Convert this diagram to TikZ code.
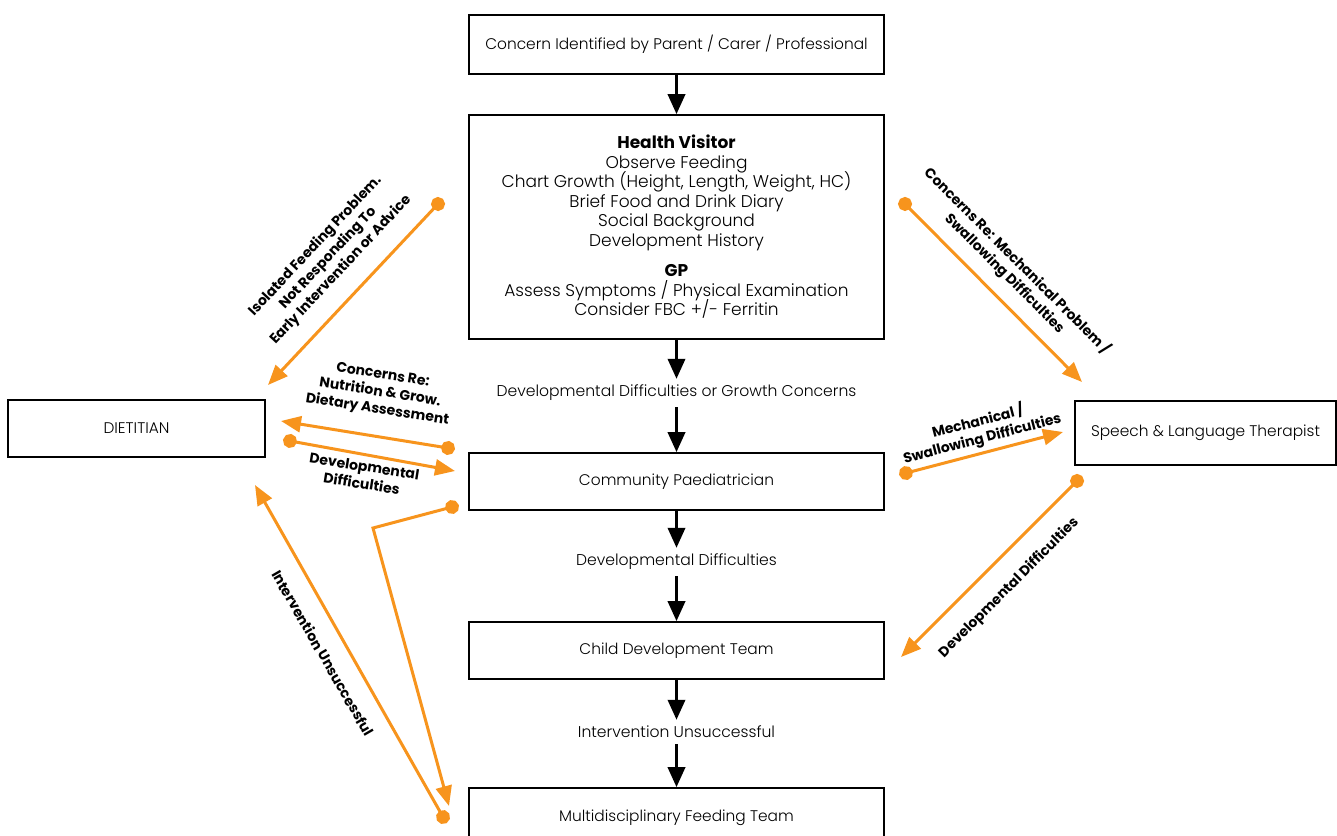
\documentclass[tikz,border=0pt]{standalone}
\usepackage{fontspec}
\setmainfont{Poppins}[UprightFont={* Light},BoldFont={* Bold}]
\usetikzlibrary{arrows.meta}
\definecolor{org}{RGB}{247,148,29}
\newcommand\mytightls{\lineskiplimit=-10pt\relax}
\begin{document}
\begin{tikzpicture}[x=1pt,y=-1pt,
  box/.style={draw=black,line width=1.6pt,inner sep=0pt,align=center,font=\fontsize{15.4}{18}\selectfont},
  mid/.style={inner xsep=0pt,inner ysep=6pt,font=\fontsize{15.6}{18}\selectfont},
  blk/.style={line width=3.5pt,-{Triangle[width=17pt,length=20pt]}},
  oar/.style={draw=org,line width=3pt,{Circle[length=14pt]}-{Triangle[width=16pt,length=20pt]}},
  olab/.style={align=center,inner sep=0pt,font=\fontsize{14}{17.5}\selectfont\bfseries\mytightls}]
\useasboundingbox (0,0) rectangle (1337,835);
% boxes
\node[box,minimum width=415pt,minimum height=59pt] (top) at (676.5,44.5) {Concern Identified by Parent / Carer / Professional};
\node[box,minimum width=415pt,minimum height=224pt,font=\fontsize{17}{19.5}\selectfont\mytightls] (hv) at (676.5,227)
 {\textbf{Health Visitor}\\Observe Feeding\\Chart Growth (Height, Length, Weight, HC)\\Brief Food and Drink Diary\\Social Background\\Development History\\[11pt]\textbf{GP}\\Assess Symptoms / Physical Examination\\Consider FBC +/- Ferritin};
\node[box,minimum width=415pt,minimum height=57pt] (cp) at (676.5,481.5) {Community Paediatrician};
\node[box,minimum width=415pt,minimum height=57pt] (cdt) at (676.5,650.5) {Child Development Team};
\node[box,minimum width=415pt,minimum height=60pt] (mft) at (676.5,818) {Multidisciplinary Feeding Team};
\node[box,minimum width=257pt,minimum height=57pt] (diet) at (136.5,428.5) {DIETITIAN};
\node[box,minimum width=261pt,minimum height=64pt] (slt) at (1205.5,433) {Speech \& Language Therapist};
% middle labels
\node[mid] (m1) at (676.5,393) {Developmental Difficulties or Growth Concerns};
\node[mid] (m2) at (676.5,562) {Developmental Difficulties};
\node[mid] (m3) at (676.5,732) {Intervention Unsuccessful};
% black arrows
\draw[blk] (top) -- (hv);
\draw[blk] (hv) -- (m1);
\draw[blk] (m1) -- (cp);
\draw[blk] (cp) -- (m2);
\draw[blk] (m2) -- (cdt);
\draw[blk] (cdt) -- (m3);
\draw[blk] (m3) -- (mft);
% orange connector ends
\coordinate (a1s) at (442.8,198.9); \coordinate (a1e) at (268,385);
\coordinate (a2s) at (900.1,199.0); \coordinate (a2e) at (1082,382);
\coordinate (a3s) at (454.9,449.1); \coordinate (a3e) at (281,421);
\coordinate (a4s) at (283.1,439.7); \coordinate (a4e) at (455,471);
\coordinate (a5s) at (458.8,505.2); \coordinate (a5c) at (373,528); \coordinate (a5e) at (449,806);
\coordinate (a6s) at (446.5,823.1); \coordinate (a6e) at (255,485);
\coordinate (a7s) at (899.2,474.8); \coordinate (a7e) at (1063,432);
\coordinate (a8s) at (1082,476); \coordinate (a8e) at (901,657);
\draw[oar] (a1s) -- (a1e);
\draw[oar] (a2s) -- (a2e);
\draw[oar] (a3s) -- (a3e);
\draw[oar] (a4s) -- (a4e);
\draw[oar] (a5s) -- (a5c) -- (a5e);
\draw[oar] (a6s) -- (a6e);
\draw[oar] (a7s) -- (a7e);
\draw[oar] (a8s) -- (a8e);
% orange labels
\node[olab,rotate=46.8] (l1) at (328,258) {Isolated Feeding Problem.\\Not Responding To\\Early Intervention or Advice};
\node[olab,rotate=-45] (l2) at (1011,267) {Concerns Re: Mechanical Problem /\\Swallowing Difficulties};
\node[olab,rotate=-9] (l3) at (380,393) {Concerns Re:\\Nutrition \& Grow.\\Dietary Assessment};
\node[olab,rotate=-9] (l4) at (363,475) {Developmental\\Difficulties};
\node[olab,rotate=-60] (l5) at (323,653) {Intervention Unsuccessful};
\node[olab,rotate=14.6] (l6) at (980,430) {Mechanical /\\Swallowing Difficulties};
\node[olab,rotate=45] (l7) at (1009,588) {Developmental Difficulties};
\end{tikzpicture}
\end{document}
